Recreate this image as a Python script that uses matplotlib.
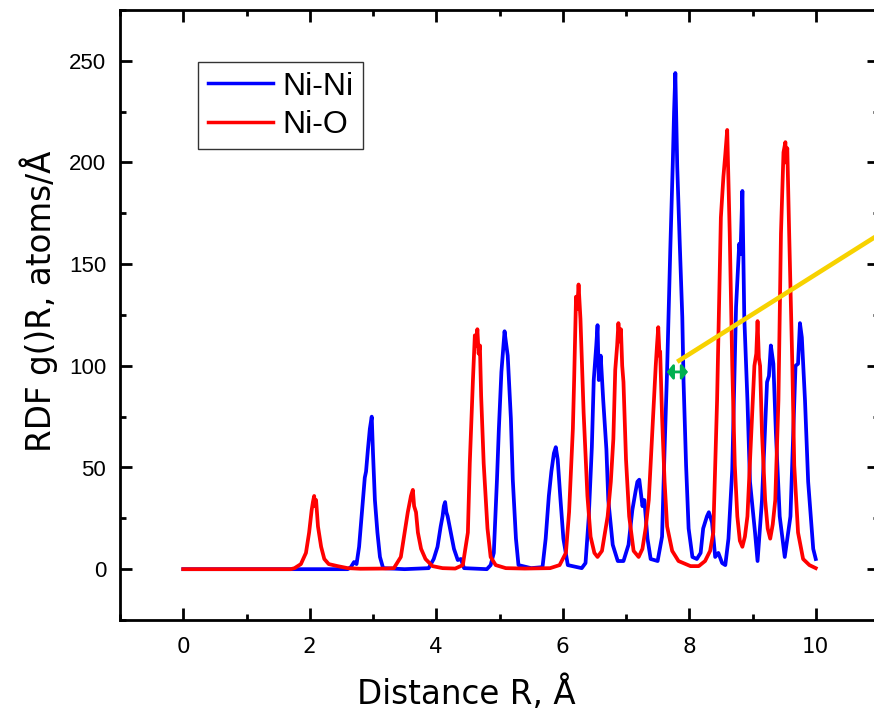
import numpy as np
import matplotlib
matplotlib.use("Agg")
import matplotlib.pyplot as plt
from matplotlib.ticker import MultipleLocator
from matplotlib.patches import ArrowStyle

# ---- data (R in Angstrom, g(R)R) ----
ni_ni_points = [
    (0.00, 0), (2.60, 0), (2.65, 1), (2.70, 3.5), (2.74, 2.5), (2.78, 11), (2.84, 34), (2.87, 45),
    (2.89, 48), (2.92, 59), (2.95, 69), (2.98, 75), (3.00, 57), (3.03, 34), (3.07, 18), (3.11, 6),
    (3.16, 0.5), (3.50, 0), (3.88, 0.5), (3.96, 5), (4.02, 11), (4.07, 21), (4.10, 26), (4.12, 31),
    (4.14, 33), (4.16, 28), (4.18, 26), (4.23, 18), (4.28, 10), (4.34, 4.5), (4.39, 5), (4.44, 0.5),
    (4.80, 0), (4.86, 2), (4.91, 8), (4.96, 44), (4.99, 69), (5.03, 97), (5.08, 117), (5.10, 112),
    (5.13, 105), (5.18, 74), (5.21, 44), (5.26, 15), (5.30, 2), (5.50, 0.5), (5.68, 1), (5.73, 15),
    (5.78, 36), (5.82, 48), (5.86, 57), (5.89, 60), (5.92, 54), (5.96, 36), (6.01, 15), (6.08, 2),
    (6.30, 0.5), (6.36, 3), (6.41, 25), (6.46, 60), (6.49, 93), (6.53, 110), (6.55, 120), (6.57, 93),
    (6.60, 105), (6.64, 83), (6.69, 59), (6.72, 34), (6.79, 12), (6.87, 4), (6.96, 4), (7.04, 12),
    (7.10, 29), (7.15, 38), (7.18, 43), (7.21, 44), (7.26, 31), (7.29, 34), (7.34, 15), (7.39, 5),
    (7.50, 4), (7.57, 16), (7.61, 59), (7.65, 98), (7.70, 157), (7.74, 200), (7.76, 225), (7.78, 244),
    (7.81, 198), (7.85, 160), (7.89, 124), (7.91, 92), (7.95, 51), (7.99, 20), (8.05, 6), (8.12, 5),
    (8.18, 8), (8.22, 20), (8.28, 26), (8.31, 28), (8.36, 23), (8.41, 6), (8.46, 8), (8.52, 3),
    (8.57, 2), (8.62, 15), (8.68, 49), (8.74, 129), (8.79, 160), (8.81, 155), (8.84, 186), (8.87, 124),
    (8.92, 83), (8.96, 43), (9.04, 18), (9.08, 4), (9.15, 34), (9.23, 92), (9.26, 95), (9.29, 110),
    (9.33, 101), (9.37, 67), (9.43, 26), (9.51, 6), (9.60, 26), (9.68, 100), (9.72, 101), (9.75, 121),
    (9.78, 114), (9.83, 83), (9.88, 43), (9.96, 10), (10.00, 5),
]

ni_o_points = [
    (0.00, 0), (1.70, 0), (1.76, 0.5), (1.86, 2.5), (1.94, 8), (1.99, 18), (2.03, 29), (2.05, 33),
    (2.07, 36), (2.08, 31), (2.10, 34), (2.13, 21), (2.18, 11), (2.23, 5), (2.30, 2.5), (2.44, 1.5),
    (2.60, 0.5), (2.80, 0.2), (3.20, 0.3), (3.33, 0.5), (3.44, 6), (3.50, 18), (3.55, 28), (3.60, 36),
    (3.63, 39), (3.65, 31), (3.68, 28), (3.71, 18), (3.76, 10), (3.83, 5), (3.94, 1.5), (4.10, 0.5),
    (4.30, 0.3), (4.42, 2), (4.50, 18), (4.53, 52), (4.58, 93), (4.61, 115), (4.63, 110), (4.65, 118),
    (4.67, 106), (4.69, 110), (4.71, 85), (4.75, 52), (4.81, 20), (4.86, 6), (4.94, 2), (5.10, 0.5),
    (5.40, 0.3), (5.80, 0.5), (5.95, 2), (6.05, 8), (6.10, 28), (6.16, 69), (6.18, 93), (6.21, 134),
    (6.23, 128), (6.25, 140), (6.28, 123), (6.33, 77), (6.39, 36), (6.44, 16), (6.50, 8), (6.55, 6),
    (6.62, 9), (6.71, 26), (6.76, 43), (6.80, 64), (6.83, 98), (6.86, 110), (6.88, 121), (6.90, 112),
    (6.92, 118), (6.94, 100), (6.96, 92), (7.00, 54), (7.05, 26), (7.12, 9), (7.20, 6), (7.26, 10),
    (7.31, 20), (7.36, 34), (7.42, 70), (7.47, 100), (7.49, 110), (7.51, 119), (7.53, 105), (7.54, 107),
    (7.57, 75), (7.61, 43), (7.65, 21), (7.73, 9), (7.83, 4), (8.02, 1.5), (8.15, 1.5), (8.25, 4),
    (8.33, 9), (8.38, 18), (8.44, 83), (8.50, 173), (8.54, 193), (8.57, 204), (8.60, 216), (8.62, 190),
    (8.64, 165), (8.68, 100), (8.72, 51), (8.76, 26), (8.80, 14), (8.84, 11), (8.88, 16), (8.92, 26),
    (8.98, 67), (9.03, 100), (9.06, 106), (9.08, 122), (9.10, 104), (9.12, 100), (9.15, 67), (9.20, 34),
    (9.24, 20), (9.28, 15), (9.32, 22), (9.36, 34), (9.41, 83), (9.45, 165), (9.49, 205), (9.52, 210),
    (9.53, 200), (9.55, 207), (9.58, 165), (9.63, 100), (9.66, 51), (9.72, 18), (9.80, 5), (9.90, 2),
    (10.00, 0.5),
]

series_labels = ["Ni-Ni", "Ni-O"]
series_colors = ["#0000FF", "#FF0000"]

x_ticks = [0, 2, 4, 6, 8, 10]
y_ticks = [0, 50, 100, 150, 200, 250]

# annotation: yellow line and green double arrow
yellow_line = [(7.81, 102), (11.0, 164.6)]
green_arrow = [(7.645, 97), (7.98, 97)]

# ---- figure ----
W, H = 874, 713
fig = plt.figure(figsize=(W / 100, H / 100), dpi=100)
ax = fig.add_axes([120 / W, (H - 620) / H, (879 - 120) / W, (620 - 10) / H])

for pts, lab, col in zip([ni_ni_points, ni_o_points], series_labels, series_colors):
    arr = np.array(pts, dtype=float)
    ax.plot(arr[:, 0], arr[:, 1], color=col, lw=2.7, label=lab, solid_joinstyle="round")

yl = np.array(yellow_line)
ax.plot(yl[:, 0], yl[:, 1], color="#F7D200", lw=3.3, solid_capstyle="butt", clip_on=False)
ax.annotate("", xy=green_arrow[1], xytext=green_arrow[0],
            arrowprops=dict(arrowstyle=ArrowStyle("<|-|>", head_length=0.4, head_width=0.5),
                            color="#00B050", lw=2.0, mutation_scale=9,
                            shrinkA=0, shrinkB=0))

ax.set_xlim(-1, 11)
ax.set_ylim(-25, 275)
ax.xaxis.set_minor_locator(MultipleLocator(1))
ax.yaxis.set_minor_locator(MultipleLocator(25))
ax.set_xticks(x_ticks)
ax.set_yticks(y_ticks)

for s in ax.spines.values():
    s.set_linewidth(2.0)
ax.tick_params(which="both", direction="in", top=True, right=True, width=2.0)
ax.tick_params(which="major", length=8.5)
ax.tick_params(which="minor", length=4.5)
ax.tick_params(axis="x", which="major", pad=12, labelsize=15.5)
ax.tick_params(axis="y", which="major", pad=10, labelsize=16)
for lab in ax.get_xticklabels():
    lab.set_fontfamily("DejaVu Sans")
for lab in ax.get_yticklabels():
    lab.set_fontfamily("Liberation Sans")

ax.set_xlabel("Distance R, Å", fontsize=23.5, fontfamily="DejaVu Sans")
ax.set_ylabel("RDF g()R, atoms/Å", fontsize=23.5, fontfamily="DejaVu Sans")
ax.xaxis.label.set_va("baseline")
ax.yaxis.label.set_va("baseline")
ax.xaxis.set_label_coords((466 - 120) / 759, -(704 - 620) / 610)
ax.yaxis.set_label_coords((51 - 120) / 759, (620 - 301.5) / 610)

leg = ax.legend(loc="upper left", bbox_to_anchor=((198 - 120) / 759, (620 - 62) / 610),
                prop={"family": "Liberation Sans", "size": 23}, frameon=True, fancybox=False,
                edgecolor="black", handlelength=2.05, handletextpad=0.3, borderpad=0.3,
                labelspacing=0.26, borderaxespad=0)
leg.get_frame().set_linewidth(1.0)
for h in leg.get_lines():
    h.set_linewidth(2.5)

fig.savefig("out.png", dpi=100)
